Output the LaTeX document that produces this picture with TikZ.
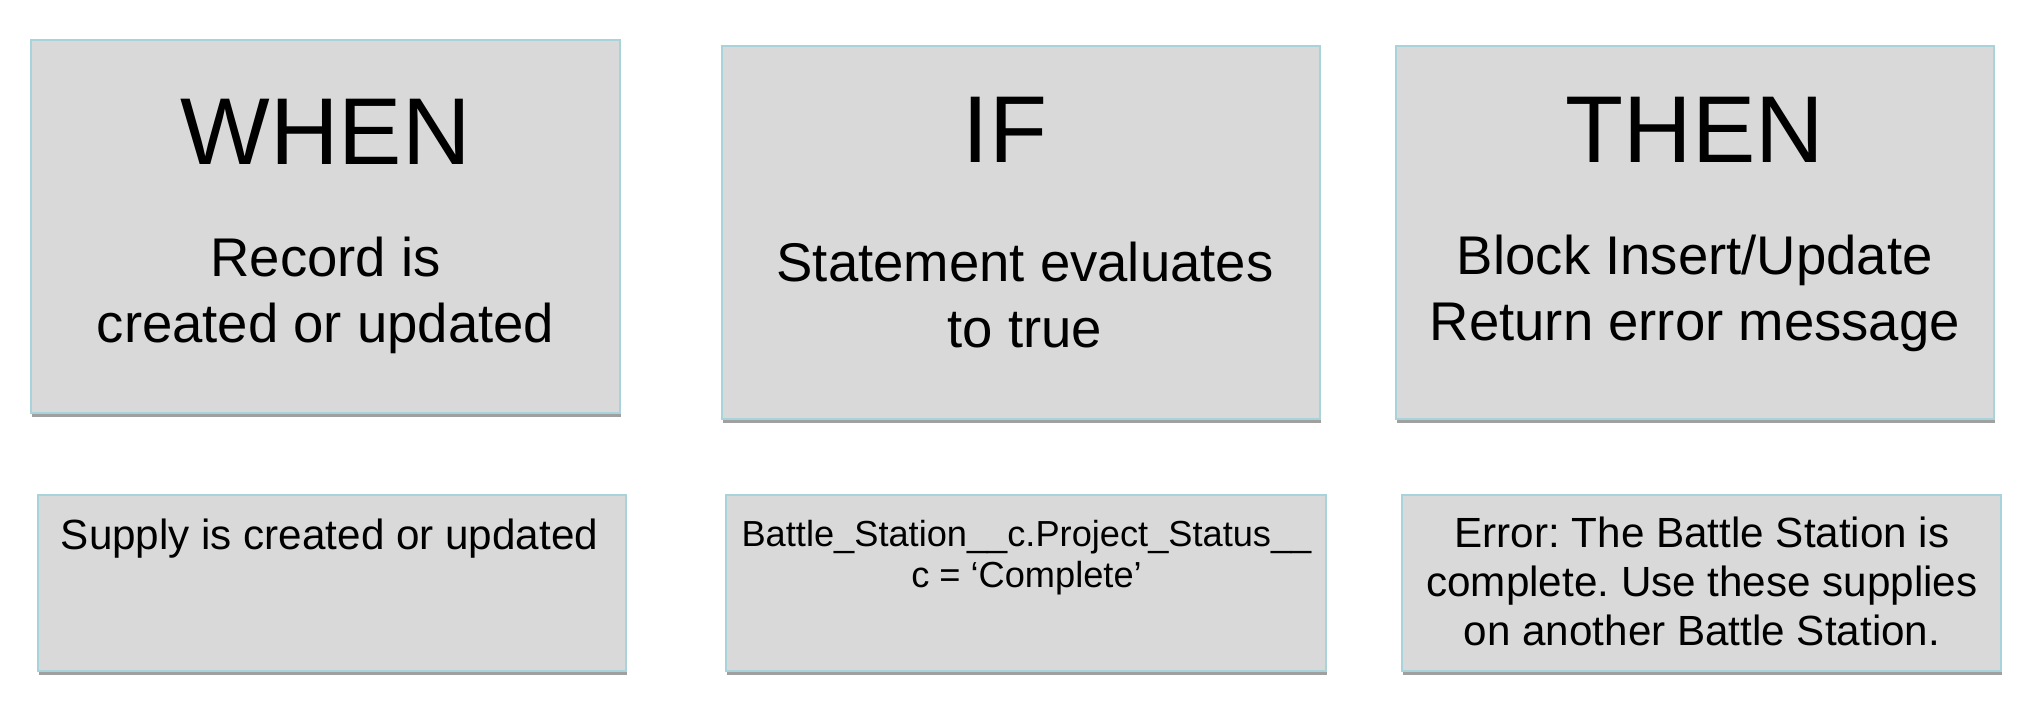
\documentclass[tikz,border=0pt]{standalone}
\usepackage{fontspec}
\setmainfont{Liberation Sans}
\frenchspacing
\usetikzlibrary{fit,shadows}
\definecolor{boxfill}{HTML}{D9D9D9}
\definecolor{boxline}{HTML}{A8D3DA}
\definecolor{shadowgray}{HTML}{A0A0A0}
\begin{document}
\frenchspacing
\begin{tikzpicture}[x=0.01cm,y=-0.01cm,
  card/.style={draw=boxline, line width=0.7pt, fill=boxfill, inner sep=0pt,
    drop shadow={shadow xshift=0.3pt, shadow yshift=-1.1pt, fill=shadowgray, opacity=1}},
  big/.style={anchor=base, font=\fontsize{27}{32}\selectfont},
  mid/.style={anchor=base, align=center, font=\fontsize{15.5}{18.5}\selectfont},
  small/.style={anchor=base, align=center, font=\fontsize{12}{13.8}\selectfont},
  tiny/.style={anchor=base, align=center, font=\fontsize{10.3}{11.4}\selectfont}]
\useasboundingbox (0,0) rectangle (2034,718);
% boxes
\node[card, fit={(31,40) (620,413)}] (b1) {};
\node[card, fit={(722,46) (1320,419)}] (b2) {};
\node[card, fit={(1396,46) (1994,419)}] (b3) {};
\node[card, fit={(38,495) (626,671)}] (b4) {};
\node[card, fit={(726,495) (1326,671)}] (b5) {};
\node[card, fit={(1402,495) (2001,671)}] (b6) {};
% texts (anchor base = baseline of last line)
\node[big] (h1) at (325.6,164) {WHEN};
\node[mid] (s1) at (325.6,342) {Record is\\created or updated};
\node[big] (h2) at (1005,162) {IF};
\node[mid] (s2) at (1025,347) {Statement evaluates\\to true};
\node[big] (h3) at (1694.8,162) {THEN};
\node[mid] (s3) at (1694.8,340) {Block Insert/Update\\Return error message};
\node[small] (d1) at (329.5,549) {Supply is created or updated};
\node[tiny] (d2) at (1026.5,587) {Battle\_Station\_\_c.Project\_Status\_\_\\c = ‘Complete’};
\node[small] (d3) at (1702,645) {Error: The Battle Station is\\complete. Use these supplies\\on another Battle Station.};
\end{tikzpicture}
\end{document}
